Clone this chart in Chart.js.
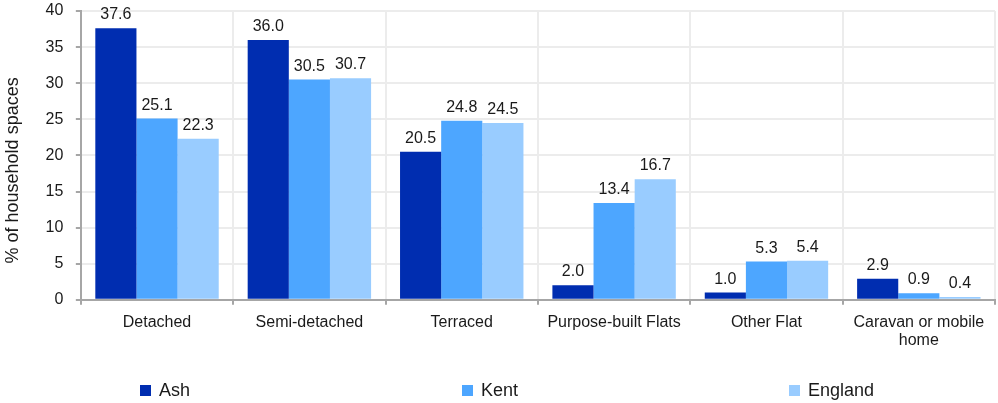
<!DOCTYPE html>
<html>
<head>
<meta charset="utf-8">
<script src="https://cdn.jsdelivr.net/npm/chart.js@4.4.1/dist/chart.umd.min.js"></script>
<style>
  html, body { margin: 0; padding: 0; background: #fff; }
  #wrap { width: 998px; height: 403px; position: relative; }
</style>
</head>
<body>
<div id="wrap"><canvas id="chart"></canvas></div>
<script>
const categories = ["Detached", "Semi-detached", "Terraced", "Purpose-built Flats", "Other Flat", ["Caravan or mobile", "home"]];
const ash = [37.6, 36.0, 20.5, 2.0, 1.0, 2.9];
const kent = [25.1, 30.5, 24.8, 13.4, 5.3, 0.9];
const england = [22.3, 30.7, 24.5, 16.7, 5.4, 0.4];
const seriesNames = ["Ash", "Kent", "England"];
const colours = ["#002db0", "#4da6ff", "#99ccff"];
const yTicks = [0, 5, 10, 15, 20, 25, 30, 35, 40];

const FONT = "'Liberation Sans', Arial, sans-serif";
Chart.defaults.font.family = FONT;
Chart.defaults.color = "#1a1a1a";

// value labels above each bar
const barLabels = {
  id: "barLabels",
  afterDatasetsDraw(chart) {
    const ctx = chart.ctx;
    ctx.save();
    ctx.font = "16px " + FONT;
    ctx.fillStyle = "#1a1a1a";
    ctx.textAlign = "center";
    ctx.textBaseline = "alphabetic";
    chart.data.datasets.forEach((ds, i) => {
      chart.getDatasetMeta(i).data.forEach((bar, j) => {
        ctx.fillText(ds.data[j].toFixed(1), bar.x, bar.y - 9);
      });
    });
    ctx.restore();
  }
};

// legend spread along the bottom
const spreadLegend = {
  id: "spreadLegend",
  afterDraw(chart) {
    const ctx = chart.ctx;
    const starts = [140, 462, 789];
    ctx.save();
    ctx.font = "18px " + FONT;
    ctx.textBaseline = "middle";
    ctx.textAlign = "left";
    chart.data.datasets.forEach((ds, i) => {
      ctx.fillStyle = ds.backgroundColor;
      ctx.fillRect(starts[i], 385, 11, 11);
      ctx.fillStyle = "#1a1a1a";
      ctx.fillText(ds.label, starts[i] + 19, 391);
    });
    ctx.restore();
  }
};

new Chart(document.getElementById("chart"), {
  type: "bar",
  data: {
    labels: categories,
    datasets: [ash, kent, england].map((d, i) => ({
      label: seriesNames[i],
      data: d,
      backgroundColor: colours[i],
      categoryPercentage: 0.81,
      barPercentage: 1.0
    }))
  },
  options: {
    responsive: true,
    maintainAspectRatio: false,
    animation: false,
    layout: { padding: { left: 0, top: 11, right: 3, bottom: 45 } },
    plugins: {
      legend: { display: false },
      tooltip: { enabled: false }
    },
    scales: {
      x: {
        grid: { color: "#ececec", lineWidth: 2, tickColor: "#a6a6a6", tickLength: 5, tickWidth: 2 },
        border: { color: "#a6a6a6", width: 2 },
        ticks: { font: { size: 16, lineHeight: 1.1 }, color: "#1a1a1a", padding: 9, maxRotation: 0, autoSkip: false }
      },
      y: {
        min: 0,
        max: 40,
        afterBuildTicks(scale) { scale.ticks = yTicks.map(v => ({ value: v })); },
        grid: { color: "#ececec", lineWidth: 2, tickColor: "#a6a6a6", tickLength: 5, tickWidth: 2 },
        border: { color: "#a6a6a6", width: 2 },
        ticks: {
          font: { size: 16, lineHeight: 0.3 },
          color: "#1a1a1a",
          padding: 8,
          callback: v => v + " "
        },
        title: {
          display: true,
          // trailing spaces nudge the rotated title a bit lower, as in the original
          text: "% of household spaces      ",
          font: { size: 18 },
          color: "#1a1a1a",
          padding: { top: 2, bottom: 14 }
        }
      }
    }
  },
  plugins: [barLabels, spreadLegend]
});
</script>
</body>
</html>
